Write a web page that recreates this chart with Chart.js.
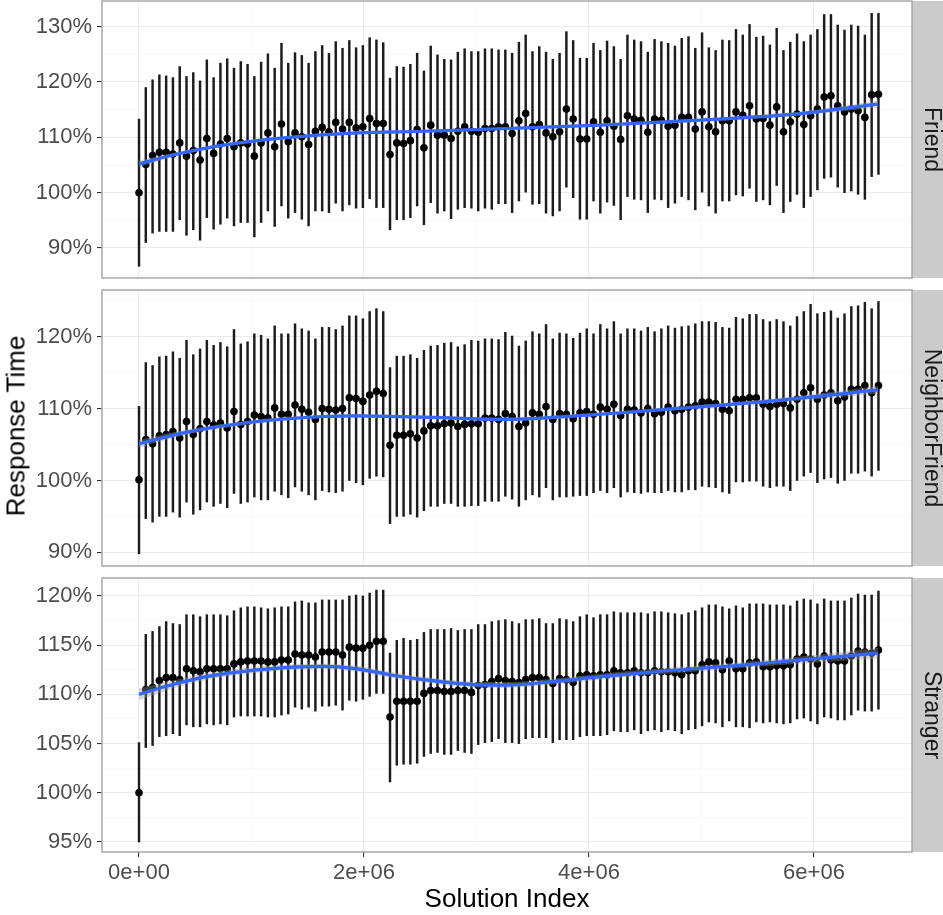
<!DOCTYPE html>
<html>
<head>
<meta charset="utf-8">
<script src="https://cdn.jsdelivr.net/npm/chart.js@4.4.1/dist/chart.umd.min.js"></script>
<style>
  html, body { margin: 0; padding: 0; background: #fff; overflow: hidden; }
  #wrap { position: relative; width: 943px; height: 915px; }
  #wrap canvas { position: absolute; left: 0; }
  #ytitle {
    position: absolute; left: 16px; top: 426px;
    transform: translate(-50%, -50%) rotate(-90deg);
    white-space: nowrap; color: #000;
    font: 26px "Liberation Sans", Arial, sans-serif;
  }
</style>
</head>
<body>
<div id="wrap">
  <canvas id="c1"></canvas>
  <canvas id="c2"></canvas>
  <canvas id="c3"></canvas>
  <div id="ytitle">Response Time</div>
</div>
<script>
// ---- data (response time, % of the first solution) ----
const STEP = 60300; // distance between successive solution indices

const friendMean = [100.0,105.1,106.7,107.3,107.3,107.0,109.0,106.6,107.6,105.9,109.8,107.1,108.8,109.8,108.3,109.0,108.8,106.6,109.0,110.8,
  108.3,112.4,109.2,110.8,110.1,108.7,111.1,111.8,111.0,112.7,111.5,112.7,111.7,111.9,113.4,112.5,112.5,106.9,109.0,108.9,
  109.4,111.4,108.1,112.2,110.4,110.4,109.8,111.1,111.9,111.1,110.9,111.6,111.6,111.9,111.9,110.7,113.0,114.3,111.9,112.3,
  110.8,110.1,111.0,115.1,113.3,109.7,109.7,112.8,110.9,113.0,112.0,109.6,113.9,113.3,113.1,110.9,113.3,113.1,112.0,112.2,
  113.6,113.6,111.5,114.6,111.9,111.0,113.0,113.0,114.6,114.0,115.7,113.3,113.4,112.2,115.5,111.0,112.8,114.2,112.3,113.9,
  115.1,117.3,117.5,115.7,114.6,115.1,114.8,113.6,117.7,117.8];
const friendHi = [113.3,119.0,120.4,121.3,121.1,120.8,122.8,121.0,121.7,120.2,124.0,120.8,123.4,124.2,122.5,123.7,123.2,121.0,123.6,125.1,
  122.5,127.0,123.4,125.3,124.8,123.4,125.5,126.6,125.2,127.3,126.1,127.5,126.2,126.6,128.0,127.6,127.1,120.7,122.8,122.7,
  123.2,125.2,122.0,126.5,124.9,124.1,124.0,125.4,126.0,125.5,125.5,126.0,126.0,125.8,125.8,125.2,127.2,128.5,125.5,126.4,
  125.4,124.1,125.2,129.1,127.5,124.3,124.3,127.0,125.7,127.4,126.4,124.1,128.5,127.6,127.3,125.4,127.7,127.3,127.0,126.5,
  127.9,128.2,126.1,128.9,126.2,125.7,127.6,127.5,129.5,128.5,130.4,128.1,128.3,126.7,129.7,125.7,127.2,128.7,127.3,128.5,
  129.5,132.2,132.2,130.3,129.4,130.3,130.1,128.5,132.4,132.4];
const friendLo = [86.7,91.0,92.7,93.0,93.0,93.0,95.1,92.3,93.3,91.4,95.5,93.4,94.3,95.4,94.0,94.6,94.6,92.0,94.6,96.7,
  93.9,97.6,95.4,96.4,95.2,94.0,96.7,96.7,96.4,98.1,96.7,97.8,97.2,97.3,98.9,97.3,97.3,93.3,95.1,95.1,
  95.5,97.6,94.2,98.2,96.3,96.7,95.3,97.0,97.3,97.2,96.7,97.2,97.0,98.0,98.0,96.4,98.5,100.1,97.9,98.0,
  96.3,95.8,96.7,101.0,99.1,95.2,95.2,98.5,96.3,98.3,97.7,95.1,99.3,98.8,98.7,96.4,98.8,98.7,97.3,98.1,
  99.3,98.7,96.9,100.1,97.6,96.3,98.5,98.5,99.6,99.4,100.8,98.4,98.7,97.8,101.3,96.4,98.4,99.7,97.3,99.3,
  100.5,102.6,102.8,101.0,100.0,100.3,99.7,98.8,102.9,103.3];

const neighborMean = [100.1,105.7,105.1,106.2,106.4,106.8,105.9,108.2,106.4,107.2,108.2,107.7,108.0,107.3,109.6,107.8,108.2,109.1,108.9,108.7,
  110.1,109.2,109.2,110.5,109.9,109.5,108.5,110.0,109.9,109.8,110.0,111.5,111.4,111.0,111.9,112.4,112.1,104.9,106.3,106.3,
  106.5,105.9,106.9,107.6,107.6,107.9,108.0,107.5,107.8,107.9,107.9,108.7,108.7,108.5,109.3,108.9,107.5,108.0,109.4,109.2,
  110.3,108.5,109.3,109.2,108.6,109.4,109.6,109.2,110.2,109.9,110.6,109.0,109.9,109.8,109.4,110.0,109.3,109.5,110.2,109.7,
  109.9,110.2,110.4,110.9,110.9,110.7,109.9,109.7,111.3,111.3,111.5,111.5,110.6,110.3,110.6,110.7,110.1,111.3,112.2,112.9,
  111.3,111.9,112.2,111.1,111.6,112.7,112.7,113.2,112.2,113.2];
const neighborHi = [110.3,116.4,116.0,117.2,117.3,117.9,117.0,119.5,117.5,118.3,119.5,118.8,119.2,118.6,121.0,119.0,119.3,120.4,120.2,119.7,
  121.5,120.4,120.4,121.8,121.1,120.8,119.7,121.3,121.3,121.0,121.5,122.9,122.9,122.5,123.5,123.9,123.5,115.7,117.3,117.3,
  117.5,117.0,118.1,118.7,118.8,119.1,119.2,118.6,118.9,119.5,119.4,119.7,119.7,119.6,120.6,120.1,118.7,119.4,120.7,120.4,
  121.7,119.7,120.5,120.4,119.8,120.5,121.1,120.4,121.7,121.1,122.1,120.4,121.1,121.1,120.8,121.3,120.7,121.1,121.5,121.2,
  121.4,121.5,121.8,122.1,122.1,122.0,121.3,121.2,122.7,122.5,123.1,123.1,122.4,122.1,122.4,122.1,121.5,122.8,123.5,124.5,
  123.2,123.4,123.6,122.6,123.2,124.2,124.3,124.8,123.9,124.9];
const neighborLo = [89.8,94.7,94.2,95.0,95.0,95.6,94.9,97.0,95.3,95.9,97.0,96.4,96.8,96.2,98.2,96.8,97.0,97.7,97.3,97.3,
  98.5,98.0,97.6,99.1,98.5,98.0,97.3,98.6,98.4,98.3,98.5,100.0,99.7,99.4,100.3,100.6,100.5,94.0,95.0,95.0,
  95.3,94.9,95.8,96.4,96.4,96.8,96.8,96.4,96.4,96.5,96.5,97.1,97.1,97.1,97.8,97.4,96.4,97.3,98.0,97.7,
  99.0,97.3,97.7,97.7,97.8,97.9,97.9,98.3,98.6,98.3,99.0,97.7,98.4,98.3,98.2,98.4,98.3,98.3,98.6,98.4,
  98.4,98.7,98.7,99.2,99.1,99.0,98.4,98.2,99.8,99.8,99.9,99.9,99.2,99.0,99.2,99.2,98.6,100.0,100.6,101.1,
  99.7,100.2,100.4,99.6,100.0,101.0,101.0,101.3,100.6,101.4];

const strangerMean = [100.0,110.5,110.7,111.4,111.7,111.7,111.5,112.6,112.4,112.3,112.6,112.6,112.6,112.6,113.1,113.3,113.4,113.4,113.4,113.3,
  113.3,113.5,113.5,114.1,114.0,114.0,113.8,114.3,114.3,114.3,114.0,114.8,114.7,114.7,115.0,115.4,115.4,107.7,109.3,109.3,
  109.3,109.3,110.1,110.4,110.4,110.3,110.3,110.4,110.4,110.2,110.9,111.0,111.3,111.6,111.4,111.3,111.2,111.5,111.7,111.7,
  111.5,111.1,111.6,111.5,111.2,111.9,112.0,111.9,112.0,112.0,112.4,112.2,112.2,112.4,112.2,112.2,112.4,112.3,112.3,112.2,
  112.0,112.4,112.4,113.0,113.3,113.2,112.5,113.4,112.6,112.6,113.2,113.3,112.8,112.8,112.9,112.9,113.0,113.6,113.8,113.6,
  113.1,113.9,113.5,113.4,113.4,113.9,114.4,114.3,114.2,114.5];
const strangerHi = [105.1,116.1,116.4,116.9,117.4,117.2,117.1,118.1,118.1,117.9,118.1,118.1,118.1,118.0,118.5,118.8,118.9,118.9,118.8,118.7,
  118.8,118.9,118.9,119.4,119.5,119.3,119.3,119.6,119.6,119.6,119.6,120.0,120.1,120.0,120.3,120.6,120.6,114.2,115.5,115.7,
  115.5,115.6,116.3,116.6,116.6,116.6,116.7,116.5,116.6,116.6,117.1,117.1,117.4,117.5,117.6,117.4,117.2,117.6,117.6,117.7,
  117.2,117.2,117.7,117.6,117.4,117.9,118.1,117.8,118.1,118.1,118.4,118.3,118.3,118.3,118.3,118.2,118.4,118.4,118.3,118.2,
  118.1,118.3,118.5,118.8,119.1,119.1,118.9,118.7,119.0,118.8,119.2,119.2,119.2,119.1,119.1,119.1,119.0,119.5,119.7,119.6,
  119.2,119.7,119.5,119.5,119.5,119.8,120.2,120.1,120.1,120.5];
const strangerLo = [95.0,104.6,104.8,105.7,105.8,106.0,105.8,106.9,106.7,106.7,107.0,106.9,107.0,106.9,107.7,107.8,107.8,107.8,107.8,107.7,
  107.7,107.9,108.0,108.7,108.5,108.7,108.3,108.8,108.8,108.9,108.4,109.4,109.3,109.5,109.8,110.1,110.1,101.1,102.8,102.9,
  102.9,103.0,103.7,104.0,104.1,103.9,103.9,104.3,104.1,104.0,104.9,105.1,105.2,105.5,105.1,105.1,105.0,105.5,105.6,105.6,
  105.6,105.1,105.4,105.4,105.4,105.7,105.8,105.8,105.8,105.9,106.3,106.2,106.2,106.4,106.0,106.3,106.4,106.2,106.4,106.3,
  106.0,106.4,106.5,106.8,107.2,107.1,106.7,107.3,106.7,106.7,106.6,107.2,107.1,107.2,107.1,107.0,107.1,107.5,107.6,107.3,
  107.0,107.7,107.6,107.4,107.4,107.9,108.4,108.3,108.3,108.5];

// loess fit: positions, fitted value, half width of the grey band
const friendSmoothX = [0, 0.3e6, 0.75e6, 1.34e6, 1.94e6, 2.53e6, 3.27e6, 4.10e6, 4.99e6, 5.88e6, 6.57e6];
const friendSmooth  = [105.2, 106.8, 108.6, 110.0, 110.8, 111.1, 111.6, 112.2, 113.1, 114.3, 116.0];
const friendSe      = [0.6, 0.35, 0.3, 0.25, 0.25, 0.25, 0.25, 0.25, 0.3, 0.35, 0.6];

const neighborSmoothX = [0, 0.45e6, 1.05e6, 1.64e6, 1.94e6, 2.53e6, 3.27e6, 3.80e6, 4.69e6, 5.58e6, 6.57e6];
const neighborSmooth  = [105.1, 106.8, 108.2, 108.9, 109.0, 108.8, 108.5, 108.9, 109.9, 111.0, 112.6];
const neighborSe      = [0.55, 0.35, 0.3, 0.25, 0.25, 0.25, 0.25, 0.25, 0.25, 0.3, 0.55];

const strangerSmoothX = [0, 0.3e6, 0.6e6, 1.05e6, 1.64e6, 1.94e6, 2.23e6, 2.53e6, 2.97e6, 3.27e6, 3.68e6, 4.10e6, 4.69e6, 5.28e6, 5.88e6, 6.57e6];
const strangerSmooth  = [110.0, 111.0, 111.8, 112.5, 112.85, 112.6, 112.0, 111.5, 111.0, 110.95, 111.3, 111.8, 112.4, 112.9, 113.5, 114.2];
const strangerSe      = [0.6, 0.4, 0.35, 0.3, 0.3, 0.3, 0.3, 0.3, 0.3, 0.3, 0.3, 0.3, 0.3, 0.3, 0.35, 0.55];

// axes
const xMajor = [0, 2e6, 4e6, 6e6];
const xLabels = ['0e+00', '2e+06', '4e+06', '6e+06'];
const xMinor = [1e6, 3e6, 5e6];
const X_MIN = -0.329e6, X_MAX = 6.871e6;

const friendTicks = [90, 100, 110, 120, 130];
const friendMinor = [85, 95, 105, 115, 125];
const neighborTicks = [90, 100, 110, 120];
const neighborMinor = [95, 105, 115, 125];
const strangerTicks = [95, 100, 105, 110, 115, 120];
const strangerMinor = [97.5, 102.5, 107.5, 112.5, 117.5];

const FONT = '"Liberation Sans", Arial, Helvetica, sans-serif';
Chart.defaults.font.family = FONT;

const panels = [
  { id: 'c1', label: 'Friend', top: 1, bottom: 278, min: 84.58, max: 134.64,
    mean: friendMean, hi: friendHi, lo: friendLo,
    sx: friendSmoothX, sy: friendSmooth, se: friendSe,
    major: friendTicks, minor: friendMinor, showX: false },
  { id: 'c2', label: 'NeighborFriend', top: 290, bottom: 566, min: 88.1, max: 126.5,
    mean: neighborMean, hi: neighborHi, lo: neighborLo,
    sx: neighborSmoothX, sy: neighborSmooth, se: neighborSe,
    major: neighborTicks, minor: neighborMinor, showX: false },
  { id: 'c3', label: 'Stranger', top: 578, bottom: 852, min: 93.98, max: 121.83,
    mean: strangerMean, hi: strangerHi, lo: strangerLo,
    sx: strangerSmoothX, sy: strangerSmooth, se: strangerSe,
    major: strangerTicks, minor: strangerMinor, showX: true }
];

const PAD = 20;     // room above/below each panel inside its canvas
const AXIS_W = 102; // left edge of the panels
const STRIP = 31;   // strip width at the right
const X_AXIS_H = 63;

// panel border and the facet strip on the right
const facetStrip = {
  id: 'facetStrip',
  afterDraw(chart, args, opts) {
    const { ctx, chartArea: a } = chart;
    ctx.save();
    ctx.fillStyle = '#cbcbcb';
    ctx.fillRect(a.right, a.top, chart.width - a.right, a.bottom - a.top);
    ctx.strokeStyle = '#a3a3a3';
    ctx.lineWidth = 1.4;
    ctx.strokeRect(a.left, a.top, a.right - a.left, a.bottom - a.top);
    ctx.translate(a.right + 19.5, (a.top + a.bottom) / 2);
    ctx.rotate(Math.PI / 2);
    ctx.fillStyle = '#1a1a1a';
    ctx.font = '23px ' + FONT;
    ctx.textAlign = 'center';
    ctx.textBaseline = 'middle';
    ctx.fillText(opts.label, 0, 0);
    ctx.restore();
  }
};

function tickVal(c) { return c && c.tick ? c.tick.value : NaN; }

function buildPanel(p) {
  const canvas = document.getElementById(p.id);
  const cTop = p.top - PAD;
  const cHeight = p.showX ? 915 - cTop : (p.bottom - p.top) + 2 * PAD;
  canvas.width = 943;
  canvas.height = cHeight;
  canvas.style.top = cTop + 'px';
  canvas.style.width = '943px';
  canvas.style.height = cHeight + 'px';

  const xs = p.mean.map((_, i) => i * STEP);
  const yGrid = [...p.minor, ...p.major].sort((a, b) => a - b);
  const xGrid = [...xMinor, ...xMajor].sort((a, b) => a - b);
  const isMajorY = v => p.major.includes(v);
  const isMajorX = v => xMajor.includes(v);

  const datasets = [
    { type: 'line', data: p.sx.map((x, i) => ({ x, y: p.sy[i] })),
      borderColor: '#3366ff', borderWidth: 3.2, pointRadius: 0, fill: false,
      cubicInterpolationMode: 'monotone' },
    { type: 'line', data: p.sx.map((x, i) => ({ x, y: p.sy[i] + p.se[i] })),
      borderWidth: 0, borderColor: 'rgba(0,0,0,0)', pointRadius: 0,
      backgroundColor: 'rgba(153,153,153,0.4)', fill: '+1',
      cubicInterpolationMode: 'monotone' },
    { type: 'line', data: p.sx.map((x, i) => ({ x, y: p.sy[i] - p.se[i] })),
      borderWidth: 0, borderColor: 'rgba(0,0,0,0)', pointRadius: 0, fill: false,
      cubicInterpolationMode: 'monotone' },
    { type: 'scatter', data: xs.map((x, i) => ({ x, y: p.mean[i] })),
      pointRadius: 3.8, pointBackgroundColor: '#000', pointBorderWidth: 0 },
    { type: 'bar', data: xs.map((x, i) => ({ x, y: [p.lo[i], p.hi[i]] })),
      backgroundColor: '#1c1c1c', borderWidth: 0, barThickness: 1.8 }
  ];

  new Chart(canvas, {
    type: 'scatter',
    data: { datasets },
    options: {
      responsive: false,
      animation: false,
      events: [],
      layout: { padding: { top: PAD, right: STRIP, bottom: p.showX ? 0 : PAD, left: 0 } },
      plugins: { legend: { display: false }, tooltip: { enabled: false }, facetStrip: { label: p.label } },
      scales: {
        x: {
          type: 'linear', min: X_MIN, max: X_MAX, offset: false,
          afterBuildTicks: s => { s.ticks = xGrid.map(v => ({ value: v })); },
          afterFit: s => { s.height = p.showX ? X_AXIS_H : 0; },
          ticks: {
            display: p.showX, autoSkip: false, maxRotation: 0, padding: 3,
            color: '#4d4d4d', font: { size: 22 },
            callback: v => { const k = xMajor.indexOf(v); return k >= 0 ? xLabels[k] : ''; }
          },
          grid: {
            offset: false,
            color: c => isMajorX(tickVal(c)) ? '#ebebeb' : '#f5f5f5',
            lineWidth: c => isMajorX(tickVal(c)) ? 1.1 : 0.6,
            drawTicks: p.showX, tickLength: 5, tickWidth: 1.1,
            tickColor: c => isMajorX(tickVal(c)) ? '#333333' : 'rgba(0,0,0,0)'
          },
          border: { display: false },
          title: { display: p.showX, text: 'Solution Index', color: '#000', font: { size: 26 }, padding: 0 }
        },
        y: {
          type: 'linear', min: p.min, max: p.max,
          afterBuildTicks: s => { s.ticks = yGrid.map(v => ({ value: v })); },
          afterFit: s => { s.width = AXIS_W; },
          ticks: {
            autoSkip: false, padding: 5, color: '#4d4d4d', font: { size: 22 },
            callback: v => isMajorY(v) ? v + '%' : ''
          },
          grid: {
            offset: false,
            color: c => isMajorY(tickVal(c)) ? '#ebebeb' : '#f5f5f5',
            lineWidth: c => isMajorY(tickVal(c)) ? 1.1 : 0.6,
            tickLength: 5, tickWidth: 1.1,
            tickColor: c => isMajorY(tickVal(c)) ? '#333333' : 'rgba(0,0,0,0)'
          },
          border: { display: false }
        }
      }
    },
    plugins: [facetStrip]
  });
}

panels.forEach(buildPanel);
</script>
</body>
</html>
